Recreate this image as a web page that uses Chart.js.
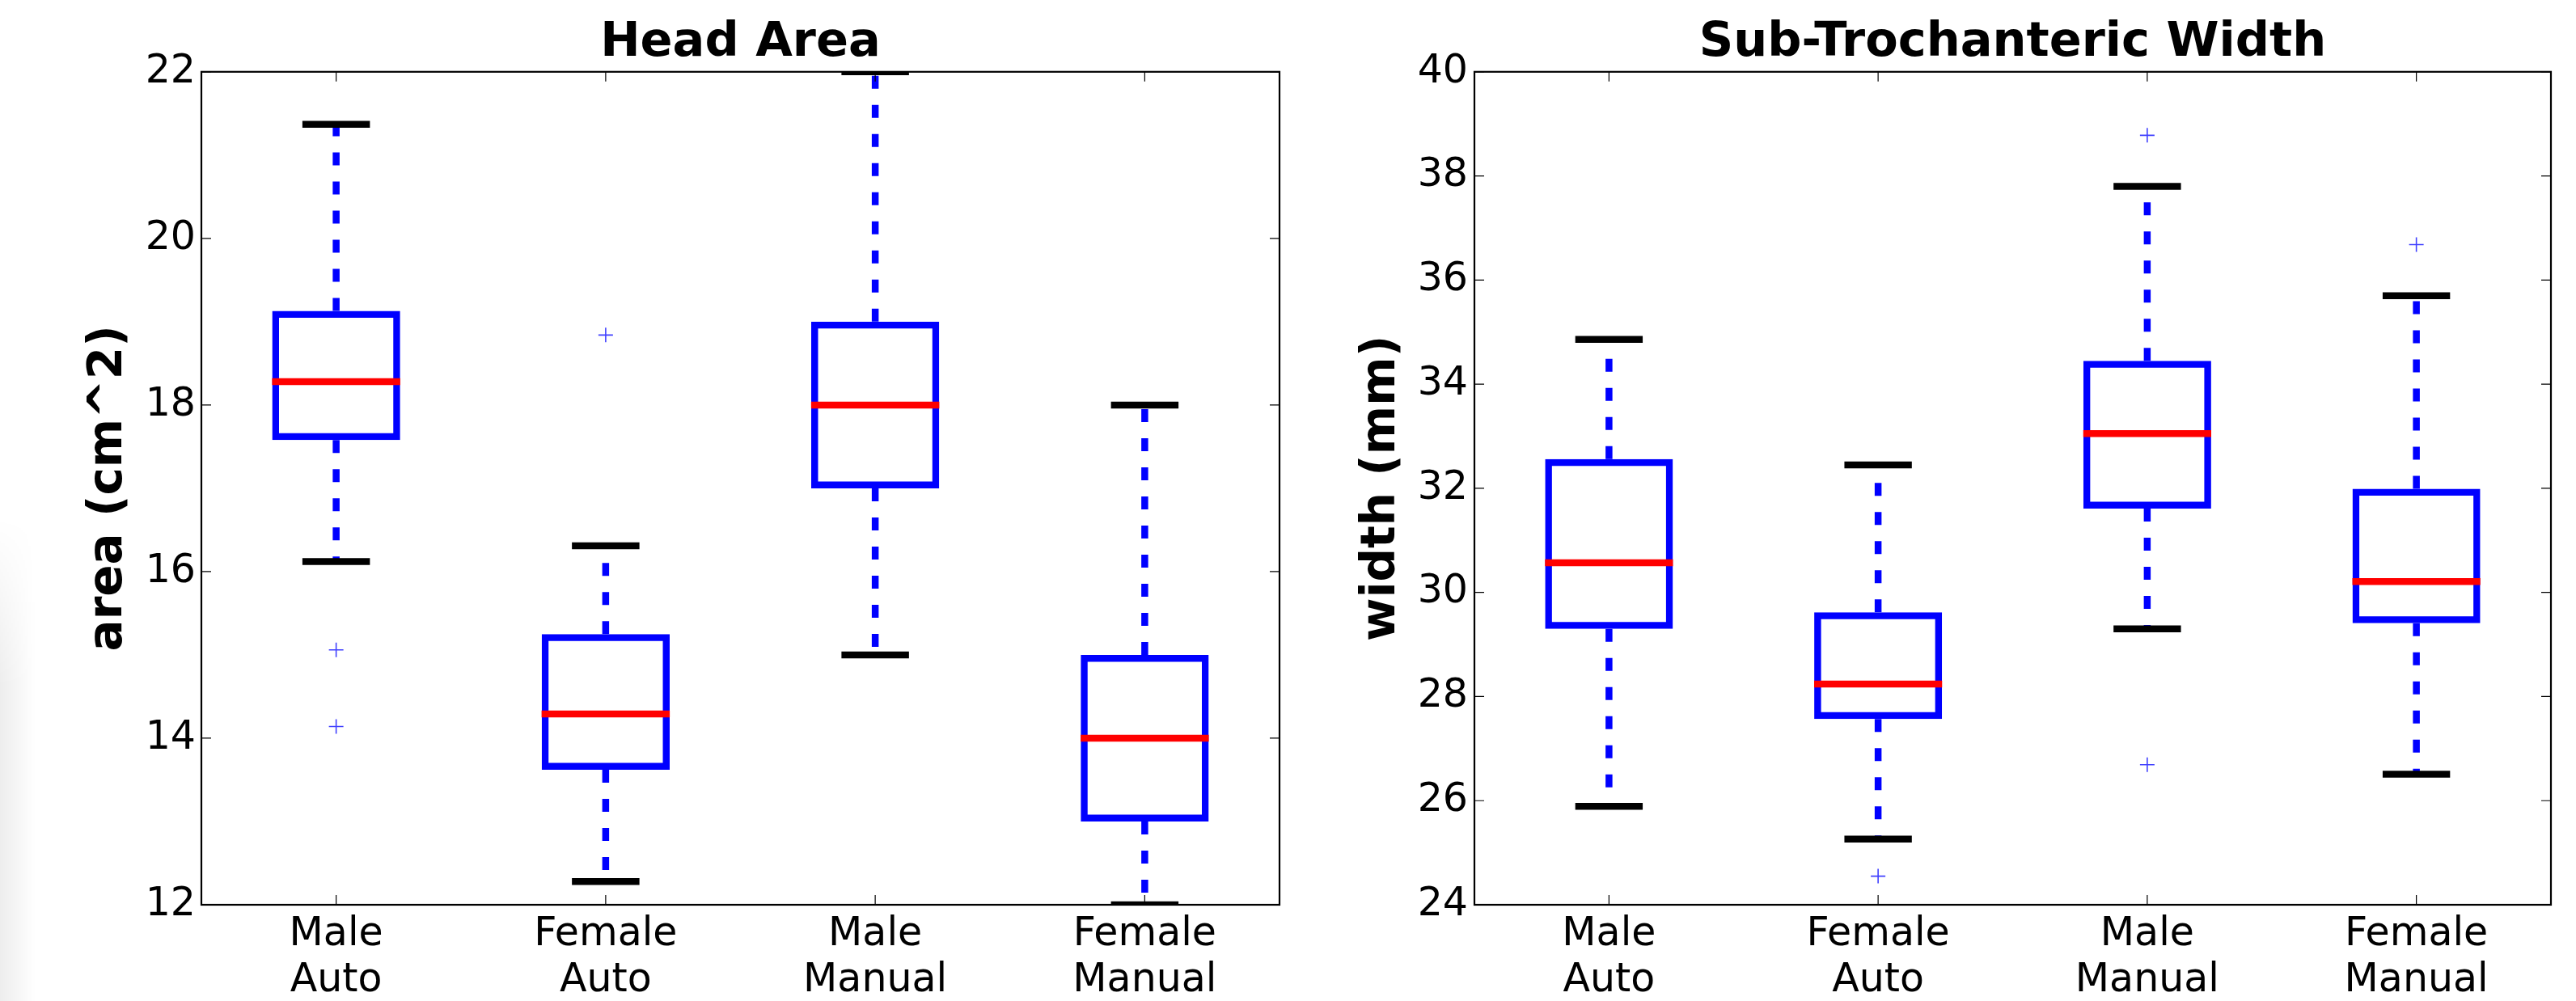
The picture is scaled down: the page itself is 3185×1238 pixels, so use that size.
<!DOCTYPE html>
<html>
<head>
<meta charset="utf-8">
<title>Head Area / Sub-Trochanteric Width</title>
<script src="https://cdn.jsdelivr.net/npm/chart.js@4.4.1/dist/chart.umd.min.js"></script>
<style>
  html, body { margin: 0; padding: 0; background: #fff; }
  body { width: 3185px; height: 1238px; position: relative; overflow: hidden; }
  .panel { position: absolute; top: 0; }
  #left-panel { left: 0; }
  #right-panel { left: 1600px; }
  .edge-shade {
    position: absolute; left: 0; top: 640px; width: 44px; height: 598px;
    background: linear-gradient(to right, rgba(0,0,0,0.07), rgba(0,0,0,0));
    -webkit-mask-image: linear-gradient(to bottom, transparent, black 35%);
    mask-image: linear-gradient(to bottom, transparent, black 35%);
  }
</style>
</head>
<body>
<div class="edge-shade"></div>
<div class="panel" id="left-panel"><canvas id="headChart" width="1600" height="1238"></canvas></div>
<div class="panel" id="right-panel"><canvas id="widthChart" width="1585" height="1238"></canvas></div>
<script>
const categories = [['Male', 'Auto'], ['Female', 'Auto'], ['Male', 'Manual'], ['Female', 'Manual']];

// Head Area (cm^2)
const headLow = [16.12, 12.28, 15.0, 12.0];
const headQ1 = [17.58, 13.62, 17.0, 13.0];
const headMedian = [18.28, 14.29, 18.0, 14.0];
const headQ3 = [19.13, 15.25, 19.0, 15.0];
const headHigh = [21.37, 16.31, 22.0, 18.0];
const headOutliers = [[15.06, 14.14], [18.84], [], []];
const headTicks = [12, 14, 16, 18, 20, 22];

// Sub-Trochanteric Width (mm)
const widthLow = [25.89, 25.26, 29.30, 26.51];
const widthQ1 = [29.30, 27.57, 31.61, 29.41];
const widthMedian = [30.57, 28.24, 33.05, 30.21];
const widthQ3 = [32.56, 29.62, 34.45, 31.99];
const widthHigh = [34.86, 32.45, 37.80, 35.70];
const widthOutliers = [[], [24.55], [38.78, 26.69], [36.68]];
const widthTicks = [24, 26, 28, 30, 32, 34, 36, 38, 40];

const BLUE = '#0000ff';
const LW = 8.5;
const FONT = "'DejaVu Sans', 'Liberation Sans', sans-serif";

// whiskers, caps, medians, frame and inward ticks
const boxParts = {
    id: 'boxParts',
    beforeDatasetsDraw(chart, args, opts) {
        const {ctx, chartArea: a, scales: {x, y}} = chart;
        ctx.save();
        ctx.beginPath();
        ctx.rect(a.left, a.top, a.width, a.height);
        ctx.clip();
        ctx.strokeStyle = BLUE;
        ctx.lineWidth = LW;
        ctx.lineCap = 'butt';
        ctx.setLineDash([16, 20]);
        opts.q1.forEach((v, i) => {
            const px = x.getPixelForValue(i);
            ctx.beginPath();
            ctx.moveTo(px, y.getPixelForValue(opts.q3[i]));
            ctx.lineTo(px, y.getPixelForValue(opts.high[i]));
            ctx.stroke();
            ctx.beginPath();
            ctx.moveTo(px, y.getPixelForValue(v));
            ctx.lineTo(px, y.getPixelForValue(opts.low[i]));
            ctx.stroke();
        });
        ctx.restore();
    },
    afterDatasetsDraw(chart, args, opts) {
        const {ctx, chartArea: a, scales: {x, y}} = chart;
        const step = x.getPixelForValue(1) - x.getPixelForValue(0);
        const capHalf = step * 0.1125 + LW / 2;
        const medHalf = step * 0.225 + LW / 2;
        ctx.save();
        ctx.beginPath();
        ctx.rect(a.left, a.top, a.width, a.height);
        ctx.clip();
        ctx.lineWidth = LW;
        ctx.lineCap = 'butt';
        opts.q1.forEach((v, i) => {
            const px = x.getPixelForValue(i);
            ctx.strokeStyle = '#000';
            [opts.low[i], opts.high[i]].forEach(w => {
                const py = y.getPixelForValue(w);
                ctx.beginPath();
                ctx.moveTo(px - capHalf, py);
                ctx.lineTo(px + capHalf, py);
                ctx.stroke();
            });
            const my = y.getPixelForValue(opts.median[i]);
            ctx.strokeStyle = '#ff0000';
            ctx.beginPath();
            ctx.moveTo(px - medHalf, my);
            ctx.lineTo(px + medHalf, my);
            ctx.stroke();
        });
        ctx.restore();
    },
    afterDraw(chart) {
        const {ctx, chartArea: a, scales: {x, y}} = chart;
        const tl = 12;
        ctx.save();
        ctx.strokeStyle = '#000';
        ctx.lineWidth = 1.2;
        y.ticks.forEach((t, i) => {
            const py = y.getPixelForTick(i);
            ctx.beginPath();
            ctx.moveTo(a.left, py); ctx.lineTo(a.left + tl, py);
            ctx.moveTo(a.right, py); ctx.lineTo(a.right - tl, py);
            ctx.stroke();
        });
        x.ticks.forEach((t, i) => {
            const px = x.getPixelForTick(i);
            ctx.beginPath();
            ctx.moveTo(px, a.bottom); ctx.lineTo(px, a.bottom - tl);
            ctx.moveTo(px, a.top); ctx.lineTo(px, a.top + tl);
            ctx.stroke();
        });
        ctx.lineWidth = 2.2;
        ctx.strokeRect(a.left, a.top, a.width, a.height);
        ctx.restore();
    }
};

function makeBoxChart(canvasId, s) {
    const outlierSets = [];
    const maxOut = Math.max(...s.outliers.map(o => o.length));
    for (let k = 0; k < maxOut; k++) {
        outlierSets.push({
            type: 'line',
            data: s.outliers.map(o => (o[k] !== undefined ? o[k] : null)),
            showLine: false,
            pointStyle: 'cross',
            pointRadius: 9,
            pointBorderWidth: 1.6,
            pointBorderColor: 'rgba(0, 0, 255, 0.75)',
            pointBackgroundColor: 'rgba(0, 0, 255, 0.75)'
        });
    }

    return new Chart(document.getElementById(canvasId), {
        type: 'bar',
        data: {
            labels: categories,
            datasets: [{
                data: s.q1.map((v, i) => [v, s.q3[i]]),
                backgroundColor: 'rgba(0, 0, 0, 0)',
                borderColor: BLUE,
                borderWidth: LW,
                borderSkipped: false,
                barPercentage: 0.475,
                categoryPercentage: 1
            }, ...outlierSets]
        },
        options: {
            responsive: false,
            animation: false,
            events: [],
            layout: { padding: { left: 0, right: s.padRight, top: 0, bottom: 0 } },
            scales: {
                x: {
                    grid: { display: false, drawTicks: false },
                    border: { display: false },
                    ticks: {
                        color: '#000',
                        padding: 9,
                        maxRotation: 0,
                        autoSkip: false,
                        font: { family: FONT, size: 49, lineHeight: 1.16 }
                    },
                    afterFit: scale => { scale.height = 119; }
                },
                y: {
                    min: s.ticks[0],
                    max: s.ticks[s.ticks.length - 1],
                    grid: { display: false, drawTicks: false },
                    border: { display: false },
                    afterBuildTicks: scale => { scale.ticks = s.ticks.map(v => ({ value: v })); },
                    ticks: {
                        color: '#000',
                        padding: s.tickPad,
                        font: { family: FONT, size: 49 }
                    },
                    title: {
                        display: true,
                        text: s.yTitle,
                        color: '#000',
                        padding: { top: s.yTitlePad, bottom: 0 },
                        font: { family: FONT, size: 58, weight: 'bold', lineHeight: 1.2 }
                    },
                    afterFit: scale => { scale.width = s.yWidth; }
                }
            },
            plugins: {
                legend: { display: false },
                tooltip: { enabled: false },
                title: {
                    display: true,
                    text: s.title,
                    color: '#000',
                    fullSize: false,
                    padding: { top: 18, bottom: 0 },
                    font: { family: FONT, size: 59, weight: 'bold', lineHeight: 1.2 }
                },
                boxParts: {
                    low: s.low, q1: s.q1, median: s.median, q3: s.q3, high: s.high
                }
            }
        },
        plugins: [boxParts]
    });
}

makeBoxChart('headChart', {
    title: 'Head Area',
    yTitle: 'area (cm^2)',
    low: headLow, q1: headQ1, median: headMedian, q3: headQ3, high: headHigh,
    outliers: headOutliers,
    ticks: headTicks,
    yWidth: 249, padRight: 18, tickPad: 7, yTitlePad: 100
});

makeBoxChart('widthChart', {
    title: 'Sub-Trochanteric Width',
    yTitle: 'width (mm)',
    low: widthLow, q1: widthQ1, median: widthMedian, q3: widthQ3, high: widthHigh,
    outliers: widthOutliers,
    ticks: widthTicks,
    yWidth: 223, padRight: 31, tickPad: 8, yTitlePad: 74
});
</script>
</body>
</html>
